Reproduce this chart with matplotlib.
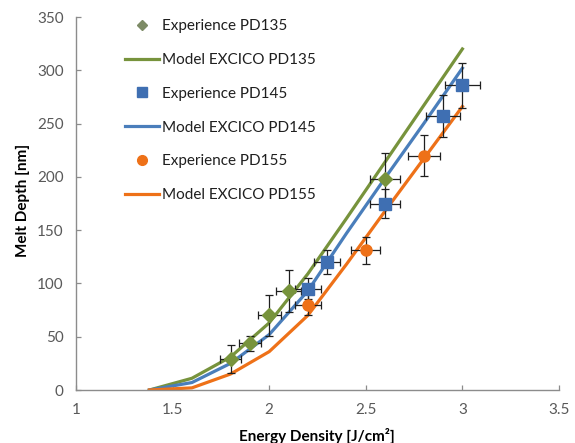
import matplotlib
matplotlib.use("Agg")
import matplotlib.pyplot as plt
from matplotlib.lines import Line2D

plt.rcParams['font.family'] = ['Lato', 'DejaVu Sans']

# Measured melt depth (experience) with error bars
exp135_x = [1.8, 1.9, 2.0, 2.1, 2.6]
exp135_y = [29, 44, 70, 93, 198]
exp135_yerr = [13, 7, 19, 20, 24]
exp135_xerr = [0.054, 0.057, 0.060, 0.063, 0.078]

exp145_x = [2.2, 2.3, 2.6, 2.9, 3.0]
exp145_y = [95, 120, 175, 257, 286]
exp145_yerr = [10, 11, 14, 20, 21]
exp145_xerr = [0.066, 0.069, 0.078, 0.087, 0.090]

exp155_x = [2.2, 2.5, 2.8]
exp155_y = [80, 131, 220]
exp155_yerr = [10, 13, 19]
exp155_xerr = [0.066, 0.075, 0.084]

# EXCICO model curves
model_x = [1.38, 1.6, 1.8, 2.0, 2.2, 2.4, 2.6, 2.8, 3.0]
model135_y = [0, 11, 31, 63, 109, 161, 214, 267, 320]
model145_y = [0, 7, 25, 52, 93, 147, 199, 250, 302]
model155_y = [0, 2, 15, 36, 70, 118, 168, 217, 266]

x_ticks = [1, 1.5, 2, 2.5, 3, 3.5]
y_ticks = [0, 50, 100, 150, 200, 250, 300, 350]

GREEN = '#77933C'
BLUE = '#4A7EBB'
ORANGE = '#EE7118'
SQ_BLUE = '#3F6FB2'
ERR = '#1F1F1F'

fig = plt.figure(figsize=(5.75, 4.43), dpi=100)
ax = fig.add_axes([76 / 575, 1 - 390 / 443, (559 - 76) / 575, (390 - 17) / 443])

lw = 2.3
ax.plot(model_x, model135_y, color=GREEN, lw=lw, zorder=2)
ax.plot(model_x, model145_y, color=BLUE, lw=lw, zorder=2)
ax.plot(model_x, model155_y, color=ORANGE, lw=lw, zorder=2)

eb_kw = dict(fmt='none', ecolor=ERR, elinewidth=0.9, capsize=3.2, capthick=0.9, zorder=3)
ax.errorbar(exp135_x, exp135_y, yerr=exp135_yerr, xerr=exp135_xerr, **eb_kw)
ax.errorbar(exp145_x, exp145_y, yerr=exp145_yerr, xerr=exp145_xerr, **eb_kw)
ax.errorbar(exp155_x, exp155_y, yerr=exp155_yerr, xerr=exp155_xerr, **eb_kw)

ax.plot(exp135_x, exp135_y, 'D', color=GREEN, ms=7.2, mec=GREEN, zorder=4)
ax.plot(exp145_x, exp145_y, 's', color=SQ_BLUE, ms=8.8, mec=SQ_BLUE, zorder=4)
ax.plot(exp155_x, exp155_y, 'o', color=ORANGE, ms=8.0, mec=ORANGE, zorder=4)

ax.set_xlim(1, 3.5)
ax.set_ylim(0, 350)
ax.set_xticks(x_ticks)
ax.set_xticklabels(['1', '1.5', '2', '2.5', '3', '3.5'])
ax.set_yticks(y_ticks)

for side in ('top', 'right'):
    ax.spines[side].set_visible(False)
for side in ('left', 'bottom'):
    ax.spines[side].set_color('#8C8C8C')
    ax.spines[side].set_linewidth(1.0)

ax.tick_params(axis='both', direction='in', length=3.5, width=0.9, color='#8C8C8C',
               labelcolor='#595959', labelsize=11)
ax.tick_params(axis='y', pad=9)
ax.tick_params(axis='x', pad=9)

fig.text(23 / 575, 1 - 200 / 443, 'Melt Depth [nm]', rotation=90, ha='center', va='center',
         fontsize=11, fontweight='bold', color='black')
fig.text(317 / 575, 1 - 436 / 443, 'Energy Density [J/cm²]', ha='center', va='center',
         fontsize=11, fontweight='bold', color='black')

handles = [
    Line2D([], [], ls='none', marker='D', color='#7D8B66', ms=5.5),
    Line2D([], [], color=GREEN, lw=lw),
    Line2D([], [], ls='none', marker='s', color=SQ_BLUE, ms=6.5),
    Line2D([], [], color=BLUE, lw=lw),
    Line2D([], [], ls='none', marker='o', color=ORANGE, ms=7),
    Line2D([], [], color=ORANGE, lw=lw),
]
labels = ['Experience PD135', 'Model EXCICO PD135', 'Experience PD145',
          'Model EXCICO PD145', 'Experience PD155', 'Model EXCICO PD155']
leg = fig.legend(handles, labels, loc='upper left', bbox_to_anchor=(125 / 575, 1 - 19 / 443),
                 frameon=False, fontsize=11, handlelength=2.2, handletextpad=0.25,
                 labelspacing=1.3, borderpad=0, borderaxespad=0)
for t in leg.get_texts():
    t.set_color('#1F1F1F')

fig.savefig('out.png', dpi=100)
